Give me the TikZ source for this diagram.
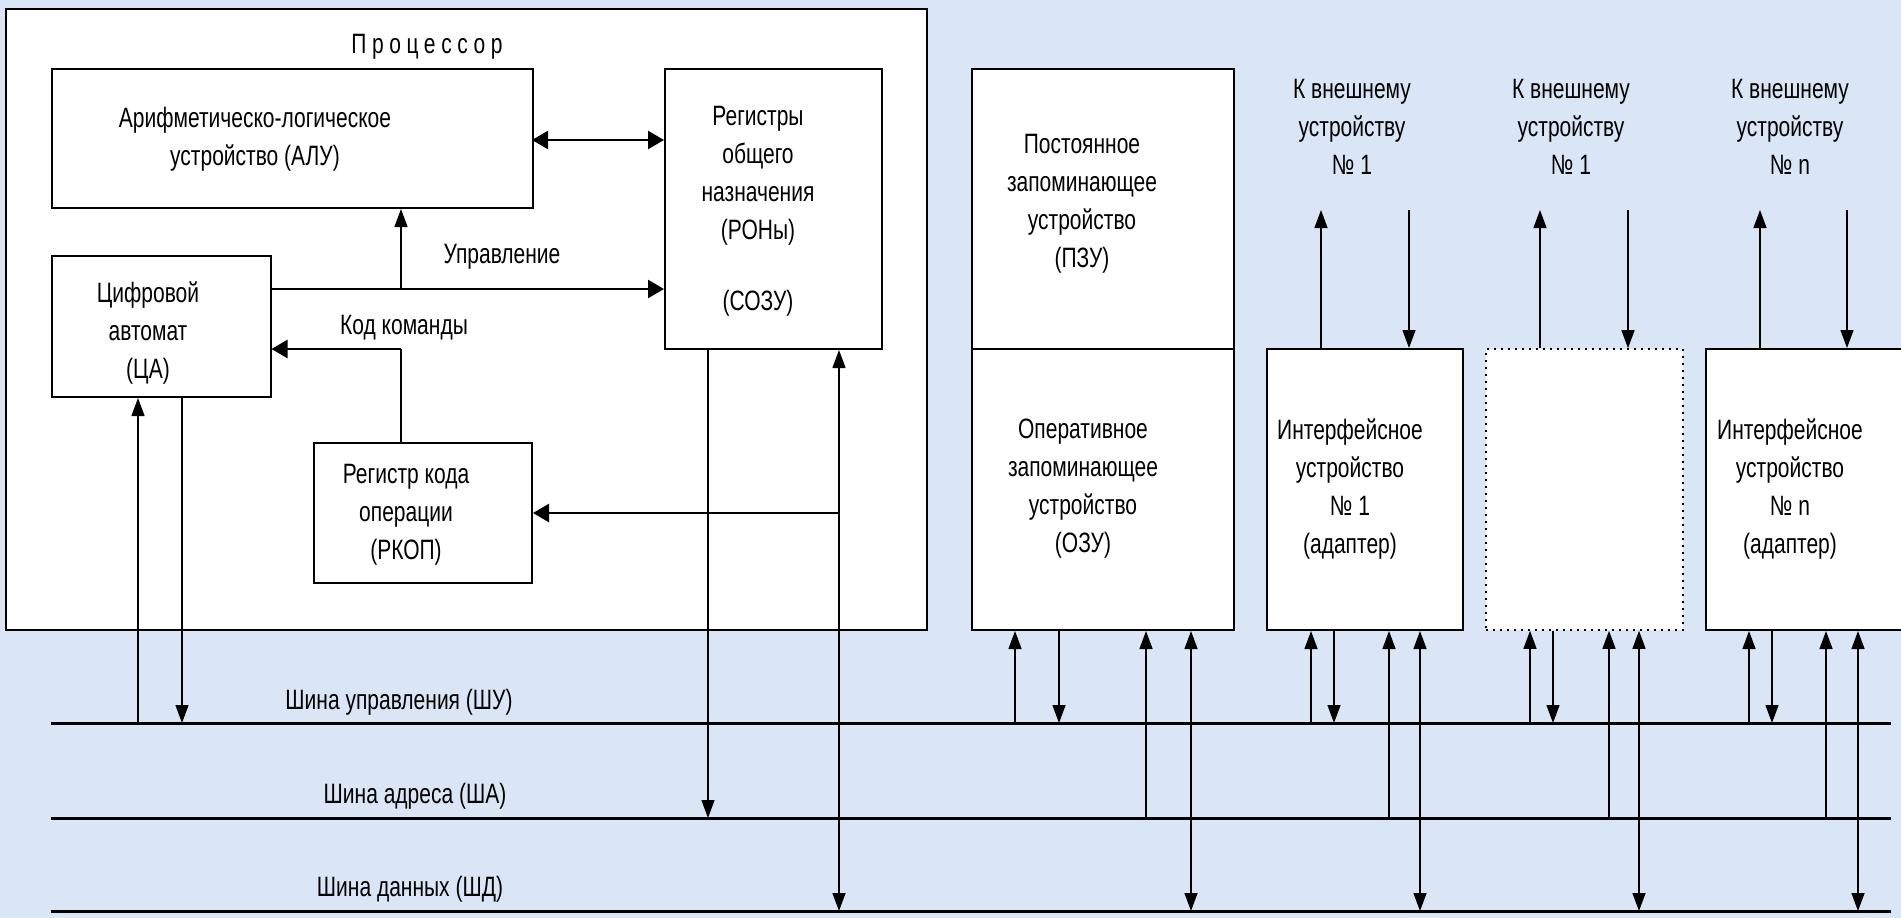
\documentclass[tikz,border=0pt]{standalone}
\usepackage{fontspec}
\setmainfont{Liberation Sans}[FakeStretch=0.75]
\newfontfamily\spacedfont{Liberation Sans}[FakeStretch=0.75,LetterSpace=20]
\usetikzlibrary{arrows.meta}
\definecolor{bg}{RGB}{218,230,245}
\tikzset{
  box/.style={draw=black, line width=2pt, fill=white, inner sep=0pt},
  dotbox/.style={draw=black, line width=1.6pt, dash pattern=on 2pt off 5pt, fill=white, inner sep=0pt},
  txt/.style={align=center, inner sep=0pt, font=\fontsize{28}{38}\selectfont},
  vline/.style={line width=1.3pt},
  hline/.style={line width=2.5pt},
  bus/.style={line width=3pt},
  vtip/.style={-{Triangle[length=18pt,width=13pt]}},
  vtipb/.style={{Triangle[length=18pt,width=13pt]}-{Triangle[length=18pt,width=13pt]}},
  htip/.style={-{Triangle[length=16pt,width=18pt]}},
  htipb/.style={{Triangle[length=16pt,width=18pt]}-{Triangle[length=16pt,width=18pt]}},
}
\begin{document}
\begin{tikzpicture}[x=1pt,y=-1pt]
\useasboundingbox (0,0) rectangle (1901,918);
\clip (0,0) rectangle (1901,918);
\fill[bg] (0,0) rectangle (1901,918);

% boxes
\node[box, minimum width=921pt, minimum height=621pt] (proc) at (466.5,319.5) {};
\node[txt, font=\spacedfont\fontsize{28}{38}\selectfont] (proct) at (427,47) {Процессор};
\node[box, minimum width=481pt, minimum height=139pt] (alu) at (292,138.5) {};
\node[txt] (alut) at (255,139) {Арифметическо-логическое\\устройство (АЛУ)};
\node[box, minimum width=217pt, minimum height=280pt] (ron) at (773.5,209) {};
\node[txt] (ront) at (758,211) {Регистры\\общего\\назначения\\(РОНы)\\[33pt](СОЗУ)};
\node[box, minimum width=219pt, minimum height=141pt] (ca) at (161,326.5) {};
\node[txt] (cat) at (148,333) {Цифровой\\автомат\\(ЦА)};
\node[box, minimum width=218pt, minimum height=140pt] (rkop) at (423,513) {};
\node[txt] (rkopt) at (406,515) {Регистр кода\\операции\\(РКОП)};

\node[box, minimum width=262pt, minimum height=280pt] (pzu) at (1103,209) {};
\node[txt] (pzut) at (1082,204) {Постоянное\\запоминающее\\устройство\\(ПЗУ)};
\node[box, minimum width=262pt, minimum height=281pt] (ozu) at (1103,489.5) {};
\node[txt] (ozut) at (1083,489) {Оперативное\\запоминающее\\устройство\\(ОЗУ)};
\node[box, minimum width=196pt, minimum height=281pt] (if1) at (1365,489.5) {};
\node[txt] (if1t) at (1350,489) {Интерфейсное\\устройство\\№ 1\\(адаптер)};
\node[dotbox, minimum width=197pt, minimum height=281pt] (ifd) at (1584.5,489.5) {};
\node[box, minimum width=204pt, minimum height=281pt] (ifn) at (1808,489.5) {};
\node[txt] (ifnt) at (1790,489) {Интерфейсное\\устройство\\№ n\\(адаптер)};

% external labels
\node[txt] (ext1) at (1352,127) {К внешнему\\устройству\\№ 1};
\node[txt] (ext2) at (1571,127) {К внешнему\\устройству\\№ 1};
\node[txt] (ext3) at (1790,127) {К внешнему\\устройству\\№ n};

% buses
\coordinate (shuL) at (51,723); \coordinate (shuR) at (1891,723);
\coordinate (shaL) at (51,818); \coordinate (shaR) at (1891,818);
\coordinate (shdL) at (51,911); \coordinate (shdR) at (1891,911);
\draw[bus] (shuL) -- (shuR);
\draw[bus] (shaL) -- (shaR);
\draw[bus] (shdL) -- (shdR);
\node[txt] (shut) at (399,702) {Шина управления (ШУ)};
\node[txt] (shat) at (415,796) {Шина адреса (ША)};
\node[txt] (shdt) at (410,889) {Шина данных (ШД)};

% processor internal connectors
\coordinate (aluR) at (532,140);
\draw[hline, htipb] (aluR) -- (ron.west |- aluR);
\coordinate (ctl) at (401,289);
\draw[hline, htip] (ca.east |- ctl) -- (ron.west |- ctl);
\draw[vline, vtip] (ctl) -- (alu.south -| ctl);
\node[txt] (ctlt) at (502,257) {Управление};
\coordinate (kk) at (401,349);
\draw[vline] (rkop.north -| kk) -- (kk);
\draw[hline, htip] (kk) -- (ca.east |- kk);
\node[txt] (kkt) at (404,328) {Код команды};
\coordinate (br) at (839,513);
\draw[hline, htip] (br) -- (rkop.east |- br);

% processor to buses
\coordinate (u1) at (138,723); \coordinate (u2) at (182,723);
\draw[vline, vtip] (u1) -- (ca.south -| u1);
\draw[vline, vtip] (ca.south -| u2) -- (u2);
\coordinate (a1) at (708,818); \coordinate (d1) at (839,911);
\draw[vline, vtip] (ron.south -| a1) -- (a1);
\draw[vline, vtipb] (ron.south -| d1) -- (d1);

% memory to buses
\coordinate (u3) at (1015,723); \coordinate (u4) at (1059,723);
\coordinate (a2) at (1146,818); \coordinate (d2) at (1191,911);
\draw[vline, vtip] (u3) -- (ozu.south -| u3);
\draw[vline, vtip] (ozu.south -| u4) -- (u4);
\draw[vline, vtip] (a2) -- (ozu.south -| a2);
\draw[vline, vtipb] (ozu.south -| d2) -- (d2);

% interface 1
\coordinate (u5) at (1311,723); \coordinate (u6) at (1334,723);
\coordinate (a3) at (1389,818); \coordinate (d3) at (1420,911);
\draw[vline, vtip] (u5) -- (if1.south -| u5);
\draw[vline, vtip] (if1.south -| u6) -- (u6);
\draw[vline, vtip] (a3) -- (if1.south -| a3);
\draw[vline, vtipb] (if1.south -| d3) -- (d3);

% dotted interface
\coordinate (u7) at (1530,723); \coordinate (u8) at (1553,723);
\coordinate (a4) at (1609,818); \coordinate (d4) at (1639,911);
\draw[vline, vtip] (u7) -- (ifd.south -| u7);
\draw[vline, vtip] (ifd.south -| u8) -- (u8);
\draw[vline, vtip] (a4) -- (ifd.south -| a4);
\draw[vline, vtipb] (ifd.south -| d4) -- (d4);

% interface n
\coordinate (u9) at (1749,723); \coordinate (u10) at (1772,723);
\coordinate (a5) at (1826,818); \coordinate (d5) at (1858,911);
\draw[vline, vtip] (u9) -- (ifn.south -| u9);
\draw[vline, vtip] (ifn.south -| u10) -- (u10);
\draw[vline, vtip] (a5) -- (ifn.south -| a5);
\draw[vline, vtipb] (ifn.south -| d5) -- (d5);

% external connections
\coordinate (e1u) at (1321,210); \coordinate (e1d) at (1409,210);
\coordinate (e2u) at (1540,210); \coordinate (e2d) at (1628,210);
\coordinate (e3u) at (1760,210); \coordinate (e3d) at (1847,210);
\draw[vline, vtip] (if1.north -| e1u) -- (e1u);
\draw[vline, vtip] (e1d) -- (if1.north -| e1d);
\draw[vline, vtip] (ifd.north -| e2u) -- (e2u);
\draw[vline, vtip] (e2d) -- (ifd.north -| e2d);
\draw[vline, vtip] (ifn.north -| e3u) -- (e3u);
\draw[vline, vtip] (e3d) -- (ifn.north -| e3d);
\end{tikzpicture}
\end{document}
